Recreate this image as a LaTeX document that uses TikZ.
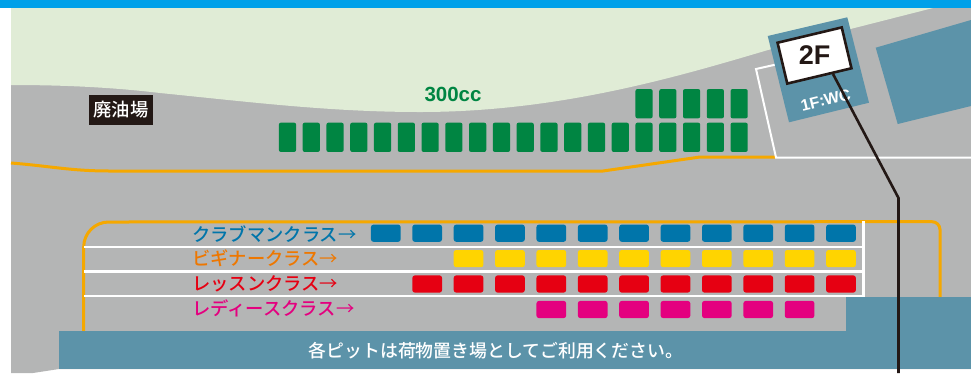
\documentclass[tikz,border=0pt]{standalone}
\usepackage{fontspec}
\usetikzlibrary{calc}
\setmainfont{Liberation Sans}
\newfontfamily\jp{Noto Sans CJK JP Medium}
\newfontfamily\jpr{Noto Sans CJK JP}
\definecolor{gr}{HTML}{B4B5B5}
\definecolor{lgreen}{HTML}{E0ECD6}
\definecolor{topblue}{HTML}{00A0E9}
\definecolor{teal2}{HTML}{5C93A9}
\definecolor{pitgreen}{HTML}{008542}
\definecolor{club}{HTML}{0075AA}
\definecolor{orangeL}{HTML}{EE7700}
\definecolor{yel}{HTML}{FFD400}
\definecolor{red2}{HTML}{E60012}
\definecolor{pink2}{HTML}{E4007F}
\definecolor{course}{HTML}{F5A800}
\definecolor{ink}{HTML}{231815}
\tikzset{
  pitv/.style={fill=pitgreen,draw=none,rounded corners=2pt,minimum width=17.2pt,minimum height=29.3pt,inner sep=0pt},
  pith/.style={fill=#1,draw=none,rounded corners=2.5pt,minimum width=29.7pt,minimum height=17.2pt,inner sep=0pt},
  classlabel/.style={anchor=west,inner sep=0pt,text=#1,font=\jp\fontsize{18.3}{20}\selectfont},
  whiteline/.style={draw=white,line width=2.4pt},
  courseline/.style={draw=course,line width=3pt},
}
\begin{document}
\begin{tikzpicture}[x=1pt,y=-1pt]
\useasboundingbox (0,0) rectangle (971,373);
\fill[white] (0,0) rectangle (971,373);
% ground
\fill[gr] (11,8) -- (971,8) -- (971,369) -- (59,369) -- (33,373) -- (11,373) -- cycle;
\fill[lgreen] (11,8) -- (933,8) -- (768,50) .. controls (680,76) and (560,112) .. (420,112)
  .. controls (330,112) and (250,102) .. (160,93) .. controls (110,87) and (60,85) .. (11,85) -- cycle;
\fill[topblue] (0,0) rectangle (971,8);
% paddock outline
\draw[courseline] (11,163) .. controls (50,166) and (70,171) .. (110,171) -- (603,171) -- (700,157) -- (776,157);
\draw[whiteline,line width=2pt,line join=miter] (971,157.5) -- (776,157.5) -- (756,69) -- (776,64.5);
\draw[courseline] (83.7,335) -- (83.7,247) arc[start angle=180,end angle=270,radius=25] -- (932,221.7) arc[start angle=270,end angle=360,radius=8] -- (940,300);
\foreach \yy in {246.7,271.3,296} \draw[whiteline] (84,\yy) -- (864.5,\yy);
\draw[whiteline] (863.3,221) -- (863.3,297);
% green pits
\foreach \i in {0,...,19} \node[pitv] (ga\i) at ({287.5+23.77*\i},137.3) {};
\foreach \i in {15,...,19} \node[pitv] (gb\i) at ({287.5+23.77*\i},103.7) {};
\node[inner sep=0pt,text=pitgreen,font=\bfseries\fontsize{20.5}{22}\selectfont] (cc) at (453,94) {300cc};
% class pits
\foreach \i in {0,...,11} \node[pith=club] (c\i) at ({385.8+41.38*\i},233.2) {};
\foreach \i in {2,...,11} \node[pith=yel] (b\i) at ({385.8+41.38*\i},258.6) {};
\foreach \i in {1,...,11} \node[pith=red2] (l\i) at ({385.8+41.38*\i},284) {};
\foreach \i in {4,...,10} \node[pith=pink2] (d\i) at ({385.8+41.38*\i},309.5) {};
\node[classlabel=club] (lc) at (192,234) {クラブマンクラス{\jpr →}};
\node[classlabel=orangeL] (lb) at (192,258.5) {ビギナークラス{\jpr →}};
\node[classlabel=red2] (ll) at (192,283.5) {レッスンクラス{\jpr →}};
\node[classlabel=pink2] (ld) at (192,308.5) {レディースクラス{\jpr →}};
% waste oil
\node[fill=ink,text=white,inner sep=0pt,minimum width=64pt,minimum height=30pt,font=\jp\fontsize{18.3}{20}\selectfont] (oil) at (121,110) {廃油場};
% buildings
\fill[teal2] (875.7,47.7) -- (971,20) -- (971,106) -- (897.7,124) -- cycle;
\fill[teal2] (767.7,36) -- (847.3,17.3) -- (869,102.7) -- (789,122.3) -- cycle;
\fill[teal2] (846,297) rectangle (971,331);
\fill[teal2] (59,331) rectangle (971,369);
\node[rotate=13.5,text=white,inner sep=0pt,font=\bfseries\fontsize{16}{18}\selectfont] (wc) at (825.7,100) {1F:WC};
\node[text=white,inner sep=0pt,font=\jp\fontsize{17.85}{20}\selectfont] (banner) at (496,350.5) {各ピットは荷物置き場としてご利用ください。};
% 2F sign
\node[draw=ink,fill=white,line width=2.6pt,rotate=13.4,minimum width=66pt,minimum height=42pt,inner sep=0pt,font=\bfseries\fontsize{27}{29}\selectfont,text=ink] (two) at (814.5,55.5) {\rotatebox[origin=c]{-13.4}{2F}};
\coordinate (bend) at (898.5,198);
\coordinate (foot) at (898.5,373);
\draw[ink,line width=2.6pt,line join=round] ($(two.south west)!0.7!(two.south east)$) -- (bend) -- (foot);
\end{tikzpicture}
\end{document}
